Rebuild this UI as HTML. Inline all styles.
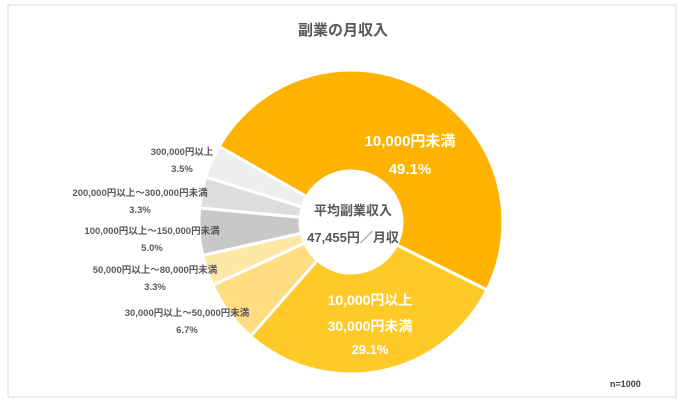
<!DOCTYPE html>
<html><head><meta charset="utf-8"><style>
body{margin:0;background:#fff}
svg text{font-family:"Liberation Sans","Noto Sans CJK JP",sans-serif;font-weight:bold}
</style></head><body>
<svg width="685" height="408" xmlns="http://www.w3.org/2000/svg">
<rect x="8" y="5" width="668" height="392" fill="#fff" stroke="#d9d9d9"/>
<text x="343" y="35" font-size="15" fill="#595959" text-anchor="middle">副業の月収入</text>
<g id="slices"></g>
<g id="labels"></g>
<text x="353" y="215" font-size="13" fill="#595959" text-anchor="middle">平均副業収入</text>
<text x="353" y="242" font-size="13" fill="#595959" text-anchor="middle">47,455円／月収</text>
<text x="610" y="387" font-size="9" fill="#404040">n=1000</text>
</svg>
<script>
const categories=["10,000円未満","10,000円以上\n30,000円未満","30,000円以上～50,000円未満","50,000円以上～80,000円未満","100,000円以上～150,000円未満","200,000円以上～300,000円未満","300,000円以上"];
const values=[49.1,29.1,6.7,3.3,5.0,3.3,3.5];
const valueLabels=["49.1%","29.1%","6.7%","3.3%","5.0%","3.3%","3.5%"];
const colors=["#FDB300","#FFC928","#FFDD80","#FFE7A6","#C9C8C8","#DEDDDD","#EEEEEE"];
const cx=351,cy=222,R=152,r=51,start=-60.2;
const ns="http://www.w3.org/2000/svg";
const total=values.reduce((a,b)=>a+b,0);
function pt(a,rad){const t=(a-90)*Math.PI/180;return [cx+rad*Math.cos(t),cy+rad*Math.sin(t)];}
const gs=document.getElementById('slices'),gl=document.getElementById('labels');
let a=start;
values.forEach((v,i)=>{
 const a2=a+v/total*360,lg=(a2-a)>180?1:0;
 const p1=pt(a,R),p2=pt(a2,R),p3=pt(a2,r),p4=pt(a,r);
 const p=document.createElementNS(ns,'path');
 p.setAttribute('d',`M${p1}A${R},${R} 0 ${lg} 1 ${p2}L${p3}A${r},${r} 0 ${lg} 0 ${p4}Z`);
 p.setAttribute('fill',colors[i]);p.setAttribute('stroke','#fff');p.setAttribute('stroke-width','3');
 
 
 gs.appendChild(p);
 a=a2;
});
function txt(x,y,s,size,fill,name){const t=document.createElementNS(ns,'text');t.setAttribute('x',x);t.setAttribute('y',y);t.setAttribute('font-size',size);t.setAttribute('fill',fill);t.setAttribute('text-anchor','middle');t.textContent=s;


gl.appendChild(t);}
// inside labels
txt(410,146,categories[0],15,"#fff","label-cat-0");
txt(410,174,valueLabels[0],15,"#fff","label-value-0");
const c1=categories[1].split("\n");
txt(370,305,c1[0],14,"#fff","label-cat-1a");
txt(370,331,c1[1],14,"#fff","label-cat-1b");
txt(370,354,valueLabels[1],13,"#fff","label-value-1");
// outside labels
const outPos=[null,null,[187,316],[155,273],[152,234],[140,196],[182,155]];
for(let i=2;i<values.length;i++){
 const [x,y]=outPos[i];
 txt(x,y,categories[i],9.5,"#595959","label-cat-"+i);
 txt(x,y+17,valueLabels[i],9.5,"#595959","label-value-"+i);
}
</script>
</body></html>
